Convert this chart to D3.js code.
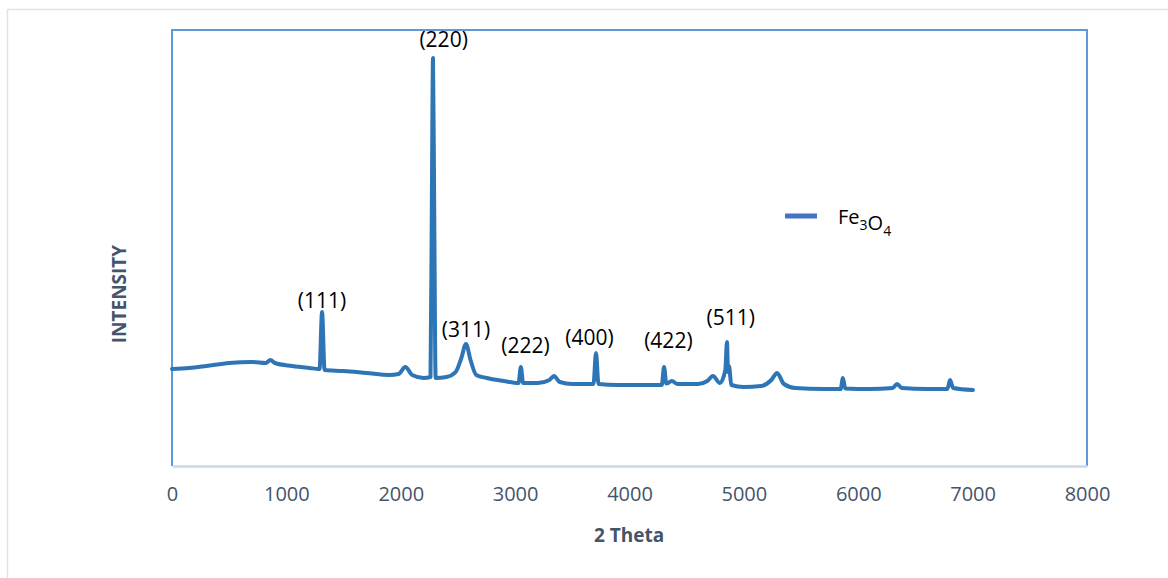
<!DOCTYPE html>
<html>
<head>
<meta charset="utf-8">
<script src="https://cdn.jsdelivr.net/npm/d3@7"></script>
<style>
  body { margin: 0; background: #fff; }
  svg text { font-family: "Open Sans", sans-serif; }
</style>
</head>
<body>
<div id="chart"></div>
<script>
// XRD scan of Fe3O4 (intensity in arbitrary counts)
const theta = [0, 150, 300, 500, 700, 820, 860, 900, 1050, 1200, 1290, 1312, 1334,
  1500, 1700, 1900, 1980, 2040, 2100, 2200, 2260, 2272, 2282, 2292, 2305, 2400, 2480, 2530,
  2570, 2610, 2660, 2750, 2900, 3030, 3050, 3070, 3200, 3300, 3340, 3390, 3500, 3685, 3707,
  3729, 3900, 4100, 4282, 4302, 4322, 4370, 4420, 4600, 4680, 4730, 4790, 4838, 4852, 4862,
  4870, 4890, 5000, 5150, 5240, 5290, 5350, 5450, 5700, 5846, 5866, 5886, 6100, 6300, 6340,
  6380, 6600, 6780, 6802, 6830, 7003];
const intensity = [485, 490, 500, 515, 520, 515, 530, 515, 500, 490, 485, 770, 480,
  475, 465, 455, 460, 495, 455, 440, 445, 1330, 2040, 1330, 440, 445, 470, 540,
  610, 530, 455, 440, 425, 415, 495, 415, 415, 430, 450, 420, 410, 410, 565,
  410, 405, 405, 405, 495, 412, 425, 410, 410, 425, 450, 415, 480, 620, 470,
  500, 405, 395, 400, 430, 465, 410, 390, 385, 385, 440, 388, 385, 390, 410,
  390, 385, 385, 430, 390, 380];

// peak labels (Miller indices) and where they sit, in data units
const peakLabels = ["(111)", "(220)", "(311)", "(222)", "(400)", "(422)", "(511)"];
const labelTheta = [1312, 2375, 2570, 3090, 3650, 4340, 4885];
const labelIntensity = [790, 2095, 645, 565, 605, 590, 705];

const xTicks = [0, 1000, 2000, 3000, 4000, 5000, 6000, 7000, 8000];
const seriesName = "Fe3O4";

const W = 1168, H = 578;
const margin = { top: 30, right: 81, bottom: 112, left: 172 };
const width = W - margin.left - margin.right;
const height = H - margin.top - margin.bottom;

const data = theta.map((t, i) => ({ t: t, v: intensity[i] }));

const x = d3.scaleLinear().domain([0, 8000]).range([0, width]);
const y = d3.scaleLinear().domain([0, 2180]).range([height, 0]);

const svg = d3.select("#chart").append("svg")
  .attr("width", W)
  .attr("height", H);

// outer chart frame
svg.append("rect")
  .attr("x", 7.5).attr("y", 9.5)
  .attr("width", W).attr("height", H)
  .attr("fill", "none")
  .attr("stroke", "#dfe3e8")
  .attr("stroke-width", 1.5);

const g = svg.append("g")
  .attr("transform", "translate(" + margin.left + "," + margin.top + ")");

// plot area border (left, top, right in blue)
g.append("path")
  .attr("d", `M0,${height} V0 H${width} V${height}`)
  .attr("fill", "none")
  .attr("stroke", "#5b9bd5")
  .attr("stroke-width", 2);

// x axis
const xAxis = d3.axisBottom(x).tickValues(xTicks).tickFormat(d3.format("d"))
  .tickSize(0).tickPadding(21);
const gx = g.append("g")
  .attr("transform", "translate(0," + height + ")")
  .call(xAxis);
gx.select(".domain").attr("stroke", "#c9d9ea").attr("stroke-width", 2.5);
gx.selectAll("text")
  .attr("fill", "#44546a")
  .style("font-size", "20px");

// axis titles
svg.append("text")
  .attr("x", 629).attr("y", 542)
  .attr("text-anchor", "middle")
  .attr("fill", "#44546a")
  .style("font-size", "19px")
  .style("font-weight", "bold")
  .text("2 Theta");

svg.append("text")
  .attr("transform", "translate(126,294) rotate(-90)")
  .attr("text-anchor", "middle")
  .attr("fill", "#44546a")
  .style("font-size", "19px")
  .style("font-weight", "bold")
  .text("INTENSITY");

// the scan
const line = d3.line()
  .curve(d3.curveMonotoneX)
  .x(d => x(d.t))
  .y(d => y(d.v));

g.append("path")
  .datum(data)
  .attr("d", line)
  .attr("fill", "none")
  .attr("stroke", "#2e75b6")
  .attr("stroke-width", 4)
  .attr("stroke-linejoin", "round")
  .attr("stroke-linecap", "round");

// peak labels
g.selectAll(".peak")
  .data(peakLabels)
  .join("text")
  .attr("class", "peak")
  .attr("x", (d, i) => x(labelTheta[i]))
  .attr("y", (d, i) => y(labelIntensity[i]))
  .attr("text-anchor", "middle")
  .attr("fill", "#000")
  .style("font-size", "21px")
  .text(d => d);

// legend
const legend = svg.append("g").attr("transform", "translate(785,216)");
legend.append("line")
  .attr("x1", 0).attr("x2", 32)
  .attr("stroke", "#4472c4")
  .attr("stroke-width", 5);
const lt = legend.append("text")
  .attr("x", 53).attr("y", 8)
  .attr("fill", "#000")
  .style("font-size", "20px");
seriesName.match(/[A-Za-z]+|\d+/g).forEach(part => {
  if (/\d/.test(part)) {
    lt.append("tspan").attr("dy", 6).style("font-size", "14px").text(part);
    lt.append("tspan").attr("dy", -6).text("");
  } else {
    lt.append("tspan").text(part);
  }
});
</script>
</body>
</html>
